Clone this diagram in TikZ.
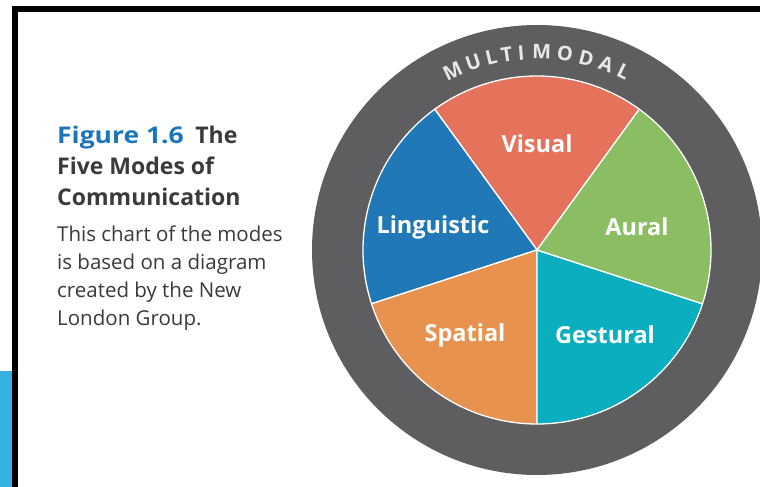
\documentclass[tikz,border=0pt]{standalone}
\usepackage{fontspec}
\setmainfont{Open Sans}
\usetikzlibrary{positioning}

\definecolor{ringgray}{HTML}{5E5E60}
\definecolor{ringtext}{HTML}{E8E8E8}
\definecolor{visualred}{HTML}{E5735B}
\definecolor{auralgreen}{HTML}{8BBE62}
\definecolor{gesturalteal}{HTML}{0BAEBE}
\definecolor{spatialorange}{HTML}{E8924F}
\definecolor{lingblue}{HTML}{2079B6}
\definecolor{figblue}{HTML}{1B75BB}
\definecolor{tabblue}{HTML}{36B2E2}
\definecolor{captext}{HTML}{3A3A3A}

\begin{document}
\begin{tikzpicture}[
    x=1pt, y=1pt,
    slice/.style={draw=white, line width=1.3pt, line join=round},
    mode/.style={text=white, inner sep=0pt,
                 font=\bfseries\fontsize{23.5}{23.5}\selectfont},
    ringletter/.style={text=ringtext, inner sep=0pt,
                       font=\bfseries\fontsize{20}{20}\selectfont},
    caption/.style={align=left, inner sep=0pt, anchor=north west, text=captext}
  ]
  \useasboundingbox (0,0) rectangle (760,487);

  % page frame and side tab
  \fill[tabblue] (0,0) rectangle (12,116);
  \draw[line width=6pt] (15,0) -- (15,478) -- (760,478);

  % outer ring
  \coordinate (ctr) at (537,237);
  \fill[ringgray] (ctr) circle[radius=225pt];

  % the five slices
  \path[slice, fill=visualred] (ctr) -- ++(54:174pt)
    arc[start angle=54, end angle=126, radius=174pt] -- cycle;
  \path[slice, fill=lingblue] (ctr) -- ++(126:174pt)
    arc[start angle=126, end angle=198, radius=174pt] -- cycle;
  \path[slice, fill=spatialorange] (ctr) -- ++(198:174pt)
    arc[start angle=198, end angle=270, radius=174pt] -- cycle;
  \path[slice, fill=gesturalteal] (ctr) -- ++(270:174pt)
    arc[start angle=270, end angle=342, radius=174pt] -- cycle;
  \path[slice, fill=auralgreen] (ctr) -- ++(-18:174pt)
    arc[start angle=-18, end angle=54, radius=174pt] -- cycle;

  \node[mode] (visual) at (537,343) {Visual};
  \node[mode] (aural) at (637,260) {Aural};
  \node[mode] (linguistic) at (433,260) {Linguistic};
  \node[mode] (gestural) at (605,152) {Gestural};
  \node[mode] (spatial) at (465,152) {Spatial};

  % lettering round the ring
  \foreach \ch/\ang [count=\k] in {M/115.2, U/108.8, L/103.4, T/98.8, I/94.6,
                                   M/88.6, O/81.9, D/75.6, A/69.5, L/64.1}
    \node[ringletter, rotate=\ang-90] (ml\k) at ([shift={(\ang:198pt)}]ctr) {\ch};

  % caption
  \node[caption, font=\bfseries\fontsize{23}{31}\selectfont] (title) at (57,361)
    {\textcolor{figblue}{\addfontfeatures{FakeStretch=1.15}Figure 1.6}\enspace The\\
     Five Modes of\\Communication};
  \node[caption, font=\fontsize{20.5}{28}\selectfont,
        below right=20pt and 0pt of title.south west] (blurb)
    {This chart of the modes\\is based on a diagram\\created by the New\\London Group.};
\end{tikzpicture}
\end{document}
